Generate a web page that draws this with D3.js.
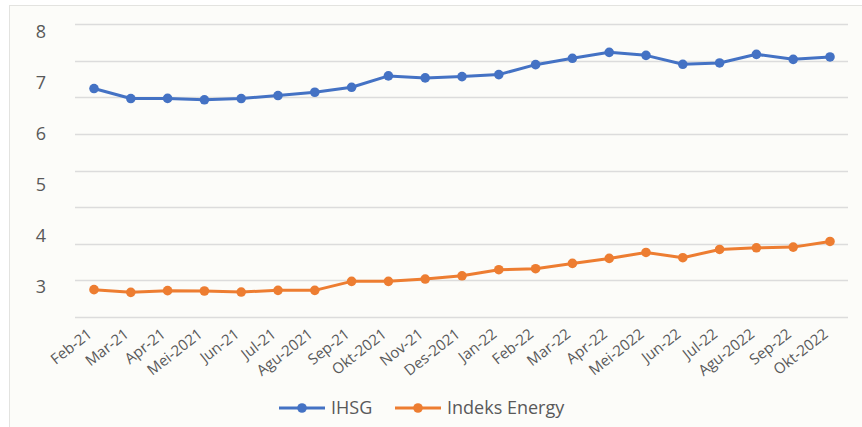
<!DOCTYPE html>
<html><head><meta charset="utf-8">
<script src="https://cdn.jsdelivr.net/npm/d3@7"></script>
<style>
html,body{margin:0;padding:0;background:#fff;}
svg{display:block;font-family:"Open Sans",sans-serif;}
</style></head>
<body>
<svg id="chart" width="862" height="427"></svg>
<script>
const categories = ["Feb-21","Mar-21","Apr-21","Mei-2021","Jun-21","Jul-21","Agu-2021","Sep-21","Okt-2021","Nov-21","Des-2021","Jan-22","Feb-22","Mar-22","Apr-22","Mei-2022","Jun-22","Jul-22","Agu-2022","Sep-22","Okt-2022"];
const ihsg = [6237,5965,5968,5930,5965,6046,6136,6272,6583,6528,6564,6619,6890,7063,7226,7144,6900,6937,7172,7035,7100];
const energy = [747,673,719,710,682,728,728,973,973,1036,1125,1292,1319,1463,1600,1763,1619,1845,1890,1908,2063];
const gridValues = [0,1000,2000,3000,4000,5000,6000,7000,8000];
const yLabels = [8,7,6,5,4,3];
const seriesNames = ["IHSG","Indeks Energy"];
const colors = ["#4472C4","#ED7D31"];

const svg = d3.select("#chart");
svg.append("rect").attr("x",0).attr("y",0).attr("width",862).attr("height",427).attr("fill","#ffffff");
svg.append("rect").attr("x",9.5).attr("y",5.5).attr("width",860).attr("height",430)
  .attr("fill","#fcfcf9").attr("stroke","#e3e3e0").attr("stroke-width",1);

const x = d3.scalePoint().domain(categories).range([94,830]);
const y = d3.scaleLinear().domain([0,8000]).range([317,24]);
// axis labels as drawn in the source (offset from gridlines)
const yLab = d3.scaleLinear().domain([3,8]).range([287,32]);

svg.append("g").selectAll("line").data(gridValues).join("line")
  .attr("x1",75).attr("x2",848)
  .attr("y1",d=>Math.round(y(d))+0.5).attr("y2",d=>Math.round(y(d))+0.5)
  .attr("stroke","#dcdcdc").attr("stroke-width",1.3);

svg.append("g").selectAll("text").data(yLabels).join("text")
  .attr("x",41).attr("y",d=>yLab(d)).attr("dy","0.36em")
  .attr("text-anchor","middle").attr("font-size",18).attr("fill","#595959")
  .text(d=>d);

svg.append("g").selectAll("text").data(categories).join("text")
  .attr("transform",d=>`translate(${x(d)-1},${336}) rotate(-38)`)
  .attr("text-anchor","end")
  .attr("font-size",15).attr("fill","#595959")
  .text(d=>d);

const line = d3.line().x((d,i)=>x(categories[i])).y(d=>y(d));
[ihsg,energy].forEach((s,k)=>{
  svg.append("path").datum(s).attr("d",line).attr("fill","none")
    .attr("stroke",colors[k]).attr("stroke-width",3).attr("stroke-linejoin","round");
  svg.append("g").selectAll("circle").data(s).join("circle")
    .attr("cx",(d,i)=>x(categories[i])).attr("cy",d=>y(d)).attr("r",4.8)
    .attr("fill",colors[k]);
});

// legend
const legendX = [279,395];
const lg = svg.append("g").selectAll("g").data(seriesNames).join("g")
  .attr("transform",(d,i)=>`translate(${legendX[i]},408)`);
lg.append("line").attr("x1",0).attr("x2",46).attr("y1",0).attr("y2",0)
  .attr("stroke",(d,i)=>colors[i]).attr("stroke-width",3);
lg.append("circle").attr("cx",23).attr("cy",0).attr("r",4.8).attr("fill",(d,i)=>colors[i]);
lg.append("text").attr("x",52).attr("y",0).attr("dy","0.36em")
  .attr("font-size",18).attr("fill","#595959").text(d=>d);
</script>
</body></html>
